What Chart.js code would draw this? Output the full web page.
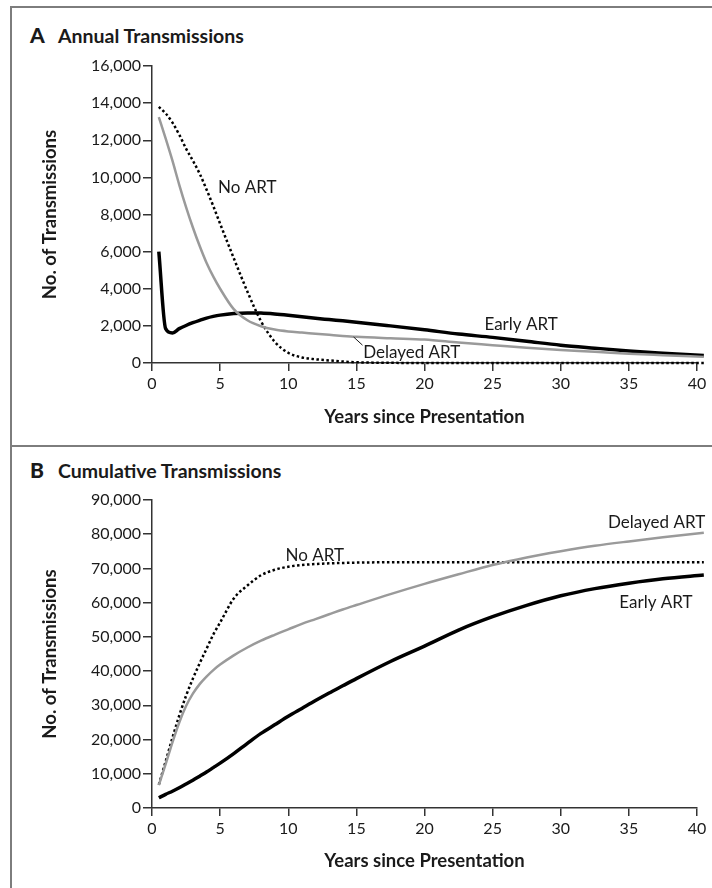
<!DOCTYPE html>
<html>
<head>
<meta charset="utf-8">
<script src="https://cdn.jsdelivr.net/npm/chart.js@4"></script>
<style>
  body { margin: 0; background: #fff; font-family: Lato, sans-serif; color: #1a1a1a; }
  #wrap { position: relative; width: 712px; height: 888px; overflow: hidden; }
  .frame { position: absolute; left: 10px; top: 6px; width: 710px; height: 890px;
           border-top: 2px solid #7d7d7d; border-left: 2px solid #7d7d7d; }
  .divider { position: absolute; left: 10px; top: 445px; width: 702px; height: 2px; background: #7d7d7d; }
  .ptitle { position: absolute; left: 30px; font-weight: bold; font-size: 19.5px; line-height: 22px; white-space: nowrap; }
  .ptitle b { display: inline-block; width: 28px; font-size: 21px; }
  canvas { position: absolute; left: 0; }
</style>
</head>
<body>
<div id="wrap">
  <div class="frame"></div>
  <div class="divider"></div>
  <div class="ptitle" style="top:24px"><b>A</b>Annual Transmissions</div>
  <div class="ptitle" style="top:459px"><b>B</b>Cumulative Transmissions</div>
  <canvas id="chartA" width="712" height="446" style="top:0"></canvas>
  <canvas id="chartB" width="712" height="442" style="top:446px"></canvas>
</div>
<script>
// years since presentation
const years = [0.5, 1, 1.5, 2, 2.5, 3, 3.5, 4, 4.5, 5, 6, 7, 8, 9, 10, 11, 12, 13, 14, 15,
               17.5, 20, 22.5, 25, 27.5, 30, 32.5, 35, 37.5, 40.5];

// A: annual transmissions
const annualNoArt = [13800, 13450, 12950, 12300, 11550, 10900, 10200, 9350, 8450, 7500,
                     5650, 3850, 2250, 1150, 550, 300, 200, 140, 80, 40,
                     10, 0, 0, 0, 0, 0, 0, 0, 0, 0];
const annualDelayed = [13250, 12100, 10900, 9600, 8400, 7300, 6300, 5400, 4650, 4000,
                       2900, 2300, 1980, 1800, 1700, 1640, 1580, 1520, 1460, 1410,
                       1330, 1260, 1100, 960, 820, 700, 610, 500, 420, 330];
const annualEarly = [6000, 1850, 1620, 1850, 2020, 2170, 2300, 2420, 2510, 2580,
                     2670, 2700, 2690, 2640, 2570, 2490, 2410, 2340, 2270, 2200,
                     2000, 1790, 1560, 1380, 1170, 960, 800, 650, 530, 400];

// B: cumulative transmissions
const cumNoArt = [6800, 13600, 20500, 27000, 32800, 37800, 42300, 46500, 50700, 54200,
                  61200, 65000, 68000, 69600, 70500, 71000, 71300, 71500, 71600, 71700,
                  71800, 71800, 71800, 71800, 71800, 71800, 71800, 71800, 71800, 71800];
const cumDelayed = [6700, 12800, 19200, 25000, 29800, 33400, 36200, 38400, 40300, 41900,
                    44600, 46900, 48900, 50600, 52200, 53800, 55200, 56600, 58000, 59300,
                    62500, 65500, 68300, 71000, 73200, 75000, 76600, 77900, 79100, 80400];
const cumEarly = [3000, 4000, 4900, 5900, 7000, 8100, 9300, 10500, 11800, 13100,
                  15900, 18900, 21800, 24300, 26800, 29100, 31400, 33600, 35700, 37800,
                  42800, 47300, 52000, 55900, 59200, 62000, 64100, 65700, 67000, 68100];

const xMax = 40, xStep = 5;
const yMaxA = 16000, yStepA = 2000;
const yMaxB = 90000, yStepB = 10000;

const curveLabelsA = [
  { text: 'No ART', x: 4.85, y: 9480 },
  { text: 'Early ART', x: 24.4, y: 2100 },
  { text: 'Delayed ART', x: 15.5, y: 590 }
];
const leadersA = [{ from: [14.8, 1400], to: [15.45, 960] }];
const curveLabelsB = [
  { text: 'No ART', x: 9.8, y: 73900 },
  { text: 'Delayed ART', x: 40.6, y: 83300, align: 'right' },
  { text: 'Early ART', x: 34.3, y: 59900 }
];

const ink = '#1a1a1a', axisInk = '#333', gray = '#9a9a9a';

const curveLabels = {
  id: 'curveLabels',
  afterDatasetsDraw(chart, args, opts) {
    const { ctx, scales: { x, y } } = chart;
    ctx.save();
    ctx.font = '17px Lato';
    ctx.fillStyle = ink;
    ctx.textBaseline = 'middle';
    (opts.items || []).forEach(it => {
      ctx.textAlign = it.align || 'left';
      ctx.fillText(it.text, x.getPixelForValue(it.x), y.getPixelForValue(it.y));
    });
    ctx.strokeStyle = ink;
    ctx.lineWidth = 1;
    (opts.leaders || []).forEach(l => {
      ctx.beginPath();
      ctx.moveTo(x.getPixelForValue(l.from[0]), y.getPixelForValue(l.from[1]));
      ctx.lineTo(x.getPixelForValue(l.to[0]), y.getPixelForValue(l.to[1]));
      ctx.stroke();
    });
    ctx.restore();
  }
};

function pts(vals) {
  return years.map((yr, i) => ({ x: yr, y: vals[i] }));
}

function makeChart(id, series, yMax, yStep, xTitlePad, labels, leaders) {
  const h = document.getElementById(id).height;
  return new Chart(document.getElementById(id), {
    type: 'line',
    data: {
      datasets: [
        { label: 'Delayed ART', data: pts(series.delayed), borderColor: gray, borderWidth: 2.5 },
        { label: 'No ART', data: pts(series.noArt), borderColor: '#000', borderWidth: 2.5, borderDash: [2.5, 2.5] },
        { label: 'Early ART', data: pts(series.early), borderColor: '#000', borderWidth: 3.5 }
      ].map(d => Object.assign(d, { pointRadius: 0, cubicInterpolationMode: 'monotone', clip: false, fill: false }))
    },
    options: {
      responsive: false,
      animation: false,
      devicePixelRatio: 1,
      layout: { padding: { top: series.top, right: 15, left: 0, bottom: 0 } },
      plugins: {
        legend: { display: false },
        tooltip: { enabled: false },
        curveLabels: { items: labels, leaders: leaders }
      },
      scales: {
        x: {
          type: 'linear', min: 0, max: xMax,
          ticks: { stepSize: xStep, color: ink, font: { family: 'Lato', size: 16 }, padding: 3, maxRotation: 0 },
          grid: { drawOnChartArea: false, tickLength: 8, color: axisInk, lineWidth: 1.5 },
          border: { color: axisInk, width: 1.5 },
          title: { display: true, text: 'Years since Presentation', color: ink,
                   font: { family: 'Lato', size: 18.5, weight: 'bold' }, padding: { top: 0, bottom: xTitlePad } },
          afterFit: s => { s.height = h - series.bottom; }
        },
        y: {
          min: 0, max: yMax,
          ticks: { stepSize: yStep, color: ink, font: { family: 'Lato', size: 16 }, padding: 2,
                   callback: v => v.toLocaleString('en-US') },
          grid: { drawOnChartArea: false, tickLength: 9, color: axisInk, lineWidth: 1.5 },
          border: { color: axisInk, width: 1.5 },
          title: { display: true, text: 'No. of Transmissions', color: ink,
                   font: { family: 'Lato', size: 18.5, weight: 'bold' }, padding: { top: 39, bottom: 0 } },
          afterFit: s => { s.width = 152; }
        }
      }
    },
    plugins: [curveLabels]
  });
}

makeChart('chartA', { noArt: annualNoArt, delayed: annualDelayed, early: annualEarly, top: 66, bottom: 363 },
          yMaxA, yStepA, 18, curveLabelsA, leadersA);
makeChart('chartB', { noArt: cumNoArt, delayed: cumDelayed, early: cumEarly, top: 54, bottom: 362 },
          yMaxB, yStepB, 16, curveLabelsB, []);
</script>
</body>
</html>
